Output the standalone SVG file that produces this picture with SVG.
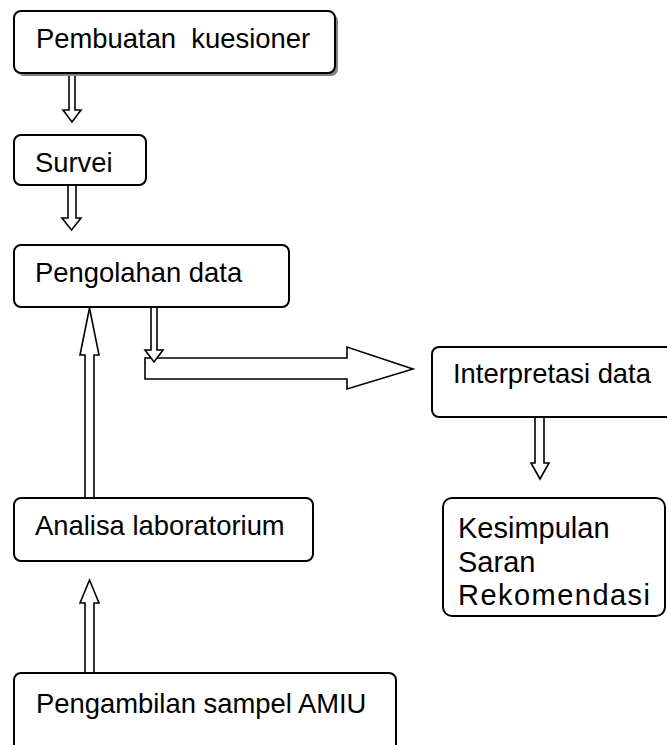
<svg xmlns="http://www.w3.org/2000/svg" width="667" height="745" viewBox="0 0 667 745">
<style>
.box{fill:#fff;stroke:#000;stroke-width:2}
.shadow{fill:#808080}
.lbl{font-family:"Liberation Sans",Arial,sans-serif;font-size:27.4px;fill:#000}
.big{font-size:29px}
.arr{fill:#fff;stroke:#000;stroke-width:1.6;stroke-linejoin:miter}
</style>
<rect width="667" height="745" fill="#fff"/>
<g id="connectors">
<path class="arr" d="M69,73 V110 H63 L72,122 L81,110 H75 V73 Z"/>
<path class="arr" d="M68,185 V218 H62 L71.5,230 L81,218 H76 V185 Z"/>
<path class="arr" d="M145,358 H347 V347 L413,369 L347,389 V379 H145 Z"/>
<path class="arr" d="M151,307 V350 H145 L154,362 L163,350 H157 V307 Z"/>
<path class="arr" d="M85,498 V355 H80 L89.5,308 L99,355 H94 V498 Z"/>
<path class="arr" d="M85,673 V603 H80 L89.5,580 L99,603 H94 V673 Z"/>
<path class="arr" d="M535,417 V463 H531 L540,479 L549,463 H544 V417 Z"/>
</g>
<g id="n1">
<rect class="shadow" x="17" y="14" width="321" height="62" rx="7"/>
<rect class="box" x="14" y="11" width="321" height="62" rx="7"/>
<text class="lbl" x="36" y="48" xml:space="preserve">Pembuatan  kuesioner</text>
</g>
<g id="n2">
<rect class="box" x="14" y="135" width="132" height="50" rx="7"/>
<text class="lbl" x="35" y="172">Survei</text>
</g>
<g id="n3">
<rect class="box" x="14" y="245" width="275" height="62" rx="7"/>
<text class="lbl" x="35" y="282">Pengolahan data</text>
</g>
<g id="n4">
<rect class="box" x="432" y="347" width="245" height="70" rx="7"/>
<text class="lbl" x="453" y="383">Interpretasi data</text>
</g>
<g id="n5">
<rect class="box" x="443" y="498" width="222" height="118" rx="9"/>
<text class="lbl big" x="458" y="538">Kesimpulan</text>
<text class="lbl big" x="458" y="572">Saran</text>
<text class="lbl big" x="458" y="605" textLength="192" lengthAdjust="spacing">Rekomendasi</text>
</g>
<g id="n6">
<rect class="box" x="14" y="498" width="299" height="63" rx="7"/>
<text class="lbl" x="35" y="535">Analisa laboratorium</text>
</g>
<g id="n7">
<rect class="box" x="14" y="673" width="382" height="80" rx="7"/>
<text class="lbl" x="36" y="713">Pengambilan sampel AMIU</text>
</g>
</svg>
